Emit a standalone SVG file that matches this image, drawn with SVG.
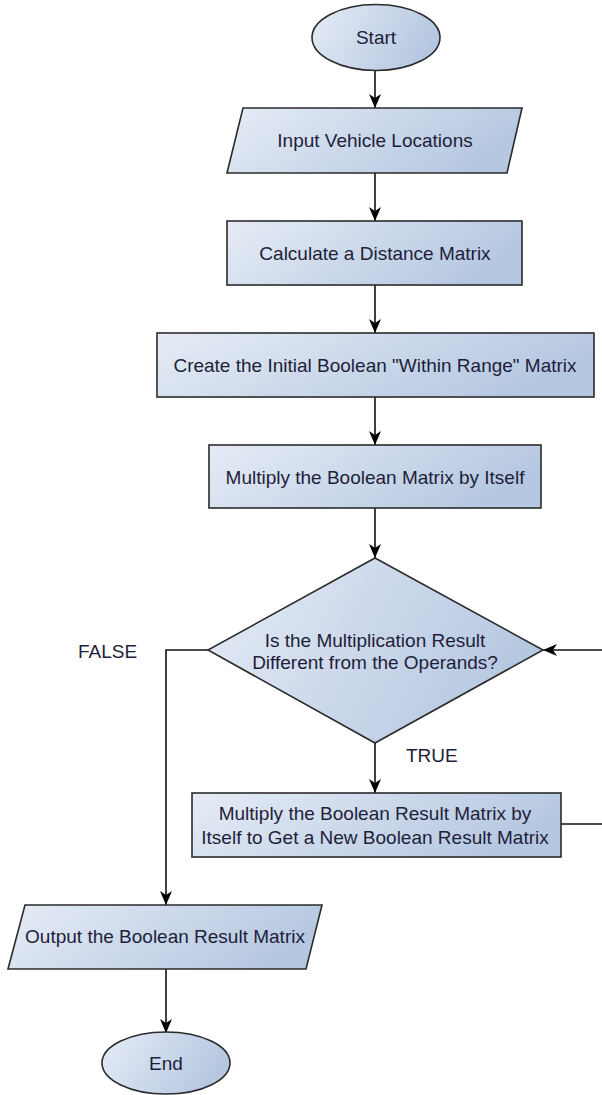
<svg xmlns="http://www.w3.org/2000/svg" width="602" height="1095" viewBox="0 0 602 1095">
<defs>
<linearGradient id="fill" x1="0" y1="0" x2="1" y2="0.3">
<stop offset="0" stop-color="#e6ecf6"/>
<stop offset="1" stop-color="#b6c8e1"/>
</linearGradient>
<marker id="arr" viewBox="0 0 14 12" refX="14" refY="6" markerWidth="14" markerHeight="12" markerUnits="userSpaceOnUse" orient="auto">
<path d="M0,0 L14,6 L0,12 L4,6 Z" fill="#000"/>
</marker>
<style>
.shape{fill:url(#fill);stroke:#2b2b2b;stroke-width:1.6}
.t{font-family:"Liberation Sans",Arial,sans-serif;font-size:19px;fill:#1e1e3a;text-anchor:middle}
.lbl{font-family:"Liberation Sans",Arial,sans-serif;font-size:19px;fill:#1e1e3a}
.c{fill:none;stroke:#111;stroke-width:1.6}
</style>
</defs>
<g id="connectors">
<path class="c" d="M375,70 V108" marker-end="url(#arr)"/>
<path class="c" d="M375,173 V221" marker-end="url(#arr)"/>
<path class="c" d="M375,285 V333" marker-end="url(#arr)"/>
<path class="c" d="M375,397 V445" marker-end="url(#arr)"/>
<path class="c" d="M375,508 V558" marker-end="url(#arr)"/>
<path class="c" d="M375,743 V793" marker-end="url(#arr)"/>
<path class="c" d="M208,650 H166 V905" marker-end="url(#arr)"/>
<path class="c" d="M561,824 H606 V650 H543" marker-end="url(#arr)"/>
<path class="c" d="M166,969 V1033" marker-end="url(#arr)"/>
<text class="lbl" x="78" y="658">FALSE</text>
<text class="lbl" x="406" y="762">TRUE</text>
</g>
<g id="start">
<ellipse class="shape" cx="376" cy="37.5" rx="64" ry="33"/>
<text class="t" x="376" y="44">Start</text>
</g>
<g id="input">
<polygon class="shape" points="243,108 522,108 507,173 227,173"/>
<text class="t" x="375" y="147">Input Vehicle Locations</text>
</g>
<g id="calc">
<rect class="shape" x="227" y="221" width="295" height="64"/>
<text class="t" x="375" y="260">Calculate a Distance Matrix</text>
</g>
<g id="create">
<rect class="shape" x="157" y="333" width="437" height="64"/>
<text class="t" x="375" y="372">Create the Initial Boolean "Within Range" Matrix</text>
</g>
<g id="multiply">
<rect class="shape" x="209" y="445" width="332" height="63"/>
<text class="t" x="375" y="484">Multiply the Boolean Matrix by Itself</text>
</g>
<g id="decision">
<polygon class="shape" points="375,558 543,650 375,743 208,650"/>
<text class="t" x="375" y="647">Is the Multiplication Result</text>
<text class="t" x="375" y="669">Different from the Operands?</text>
</g>
<g id="result">
<rect class="shape" x="192" y="793" width="369" height="64"/>
<text class="t" x="375" y="820">Multiply the Boolean Result Matrix by</text>
<text class="t" x="375" y="844">Itself to Get a New Boolean Result Matrix</text>
</g>
<g id="output">
<polygon class="shape" points="25,905 322,905 306,969 8,969"/>
<text class="t" x="165" y="943">Output the Boolean Result Matrix</text>
</g>
<g id="end">
<ellipse class="shape" cx="166" cy="1063" rx="64" ry="31"/>
<text class="t" x="166" y="1070">End</text>
</g>
</svg>
